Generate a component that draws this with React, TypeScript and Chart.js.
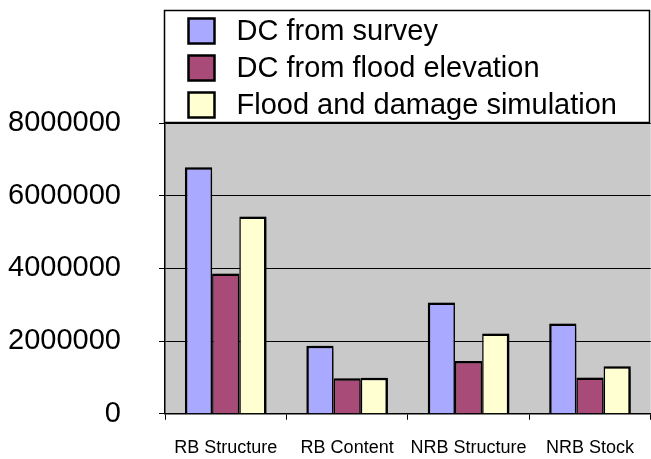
import React, { useEffect, useRef } from "react";
import { Chart, registerables } from "chart.js";

Chart.register(...registerables);

const categories = ["RB Structure", "RB Content", "NRB Structure", "NRB Stock"];
const surveyValues = [6780000, 1870000, 3060000, 2480000];
const elevationValues = [3860000, 980000, 1450000, 1000000];
const simulationValues = [5430000, 990000, 2210000, 1310000];
const seriesLabels = ["DC from survey", "DC from flood elevation", "Flood and damage simulation"];
const yTicks = [0, 2000000, 4000000, 6000000, 8000000];

const FONT = "'Liberation Sans', Arial, Helvetica, sans-serif";

// Gray fill behind the plot area
const plotBackground = {
  id: "plotBackground",
  beforeDraw(chart: any) {
    const { ctx, chartArea } = chart;
    ctx.save();
    ctx.fillStyle = "#c9c9c9";
    ctx.fillRect(chartArea.left, chartArea.top, chartArea.right - chartArea.left, chartArea.bottom - chartArea.top);
    ctx.restore();
  },
};

// Soft drop shadow under the bars
const barShadow = {
  id: "barShadow",
  beforeDatasetsDraw(chart: any) {
    const ctx = chart.ctx;
    ctx.save();
    ctx.shadowColor = "rgba(0,0,0,0.55)";
    ctx.shadowOffsetX = 4;
    ctx.shadowOffsetY = 2;
    ctx.shadowBlur = 6;
  },
  afterDatasetsDraw(chart: any) {
    chart.ctx.restore();
  },
};

// Boxed legend sitting above the plot area
const boxLegend = {
  id: "boxLegend",
  afterDraw(chart: any) {
    const { ctx, chartArea } = chart;
    const left = chartArea.left - 0.5;
    const right = chart.width - 1.5;
    const top = 10.5;
    const bottom = chartArea.top - 0.5;
    ctx.save();
    ctx.fillStyle = "#ffffff";
    ctx.fillRect(left, top, right - left, bottom - top);
    ctx.strokeStyle = "#000";
    ctx.lineWidth = 1.5;
    ctx.strokeRect(left, top, right - left, bottom - top);

    const rowH = 37;
    const firstCenter = 31;
    ctx.font = `29px ${FONT}`;
    ctx.textBaseline = "middle";
    ctx.textAlign = "left";
    chart.data.datasets.forEach((ds: any, i: number) => {
      const cy = firstCenter + i * rowH;
      const sx = left + 24;
      ctx.fillStyle = ds.backgroundColor;
      ctx.fillRect(sx, cy - 12.5, 26, 25);
      ctx.lineWidth = 2.5;
      ctx.strokeStyle = "#000";
      ctx.strokeRect(sx, cy - 12.5, 26, 25);
      ctx.fillStyle = "#000";
      ctx.fillText(ds.label, left + 72, cy + 1);
    });
    ctx.restore();
  },
};

export default function App() {
  const canvasRef = useRef<HTMLCanvasElement | null>(null);

  useEffect(() => {
    if (!canvasRef.current) return;
    const chart = new Chart(canvasRef.current, {
      type: "bar",
      data: {
        labels: categories,
        datasets: [
          {
            label: seriesLabels[0],
            data: surveyValues,
            backgroundColor: "#a9aaff",
            borderColor: "#000",
            borderWidth: { left: 2.5, right: 1.5, top: 2.5, bottom: 0 },
            borderSkipped: false,
          },
          {
            label: seriesLabels[1],
            data: elevationValues,
            backgroundColor: "#a84b78",
            borderColor: "#000",
            borderWidth: { left: 1.5, right: 1.5, top: 2.5, bottom: 0 },
            borderSkipped: false,
          },
          {
            label: seriesLabels[2],
            data: simulationValues,
            backgroundColor: "#ffffd2",
            borderColor: "#000",
            borderWidth: { left: 1.5, right: 2.5, top: 2.5, bottom: 0 },
            borderSkipped: false,
          },
        ],
      },
      options: {
        responsive: false,
        maintainAspectRatio: false,
        animation: false,
        layout: { padding: { top: 123, left: 0, right: 0, bottom: 0 } },
        datasets: {
          bar: { categoryPercentage: 0.672, barPercentage: 1 },
        },
        plugins: {
          legend: { display: false },
          tooltip: { enabled: false },
        },
        scales: {
          x: {
            offset: true,
            grid: {
              display: true,
              offset: true,
              drawOnChartArea: false,
              drawTicks: true,
              tickLength: 6,
              color: "#000",
              lineWidth: 1,
            },
            border: { display: true, color: "#000", width: 1.5 },
            ticks: {
              color: "#000",
              font: { family: FONT, size: 18 },
              padding: 17,
              maxRotation: 0,
              autoSkip: false,
            },
            afterFit: (scale: any) => {
              scale.height = 44;
            },
          },
          y: {
            min: yTicks[0],
            max: yTicks[yTicks.length - 1],
            afterBuildTicks: (scale: any) => {
              scale.ticks = yTicks.map((v) => ({ value: v }));
            },
            grid: {
              color: "#000",
              lineWidth: 1,
              tickLength: 6,
              drawTicks: true,
            },
            border: { display: true, color: "#000", width: 1.5 },
            ticks: {
              color: "#000",
              font: { family: FONT, size: 29, lineHeight: 0.5 },
              padding: 38,
              callback: (v: any) => String(v),
            },
            afterFit: (scale: any) => {
              scale.width = 165;
            },
          },
        },
      },
      plugins: [plotBackground, barShadow, boxLegend],
    });
    return () => chart.destroy();
  }, []);

  return (
    <div style={{ position: "fixed", left: 0, top: 0, width: 651, height: 459, background: "#fff" }}>
      <canvas ref={canvasRef} width={651} height={459} style={{ display: "block" }} />
    </div>
  );
}
